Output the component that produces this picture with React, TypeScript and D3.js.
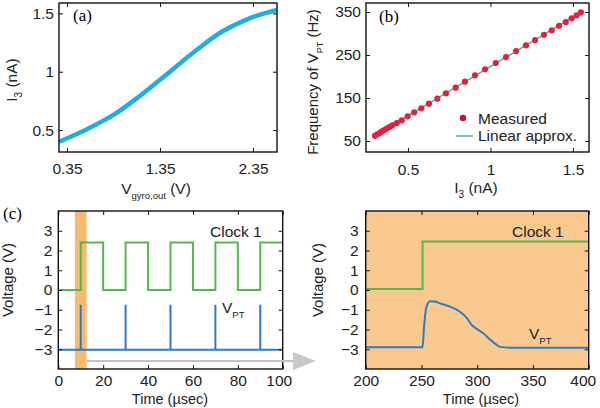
import { useEffect, useRef } from 'react';
import * as d3 from 'd3';

// (a) I3 versus gyro output voltage
const vGyro = [0.264, 0.52, 0.85, 1.13, 1.44, 1.75, 2.01, 2.32, 2.605];
const i3Curve = [0.4, 0.49, 0.63, 0.79, 0.99, 1.19, 1.34, 1.46, 1.53];

// (b) spike frequency versus I3
const i3Measured = [0.3, 0.314, 0.328, 0.342, 0.356, 0.371, 0.387, 0.405, 0.432, 0.462, 0.498, 0.538, 0.581, 0.627, 0.678, 0.73, 0.789, 0.845, 0.906, 0.967, 1.032, 1.094, 1.155, 1.215, 1.27, 1.324, 1.371, 1.415, 1.456, 1.492, 1.522, 1.548];
const freqMeasured = [62, 65.6, 68.6, 72.6, 75.6, 78.6, 82.6, 86.5, 91.9, 98.1, 107.4, 116.7, 126, 136.7, 148.4, 160.9, 174, 187.9, 202.8, 216.7, 231.4, 245.3, 259.3, 272.6, 284.9, 297.2, 307.4, 318.1, 326.7, 335.3, 342.3, 349.3];
const i3Linear = [0.3, 1.55];
const freqLinear = [62.3, 349.8];

// (c) oscilloscope traces, 0-100 us
const clockT = [0, 10, 20, 30, 40, 50, 60, 70, 80, 90, 100];
const clockV = [0, 2.4, 0, 2.4, 0, 2.4, 0, 2.4, 0, 2.4, 2.4];
const spikeT = [10, 30, 50, 70, 90];
const spikeTop = -0.75;
const vptBase = -3.02;
const zoomWindow = [7.4, 12.6];

// (c) zoomed traces, 200-400 us
const clockZT = [200, 251, 400];
const clockZV = [0.05, 2.45, 2.45];
const vptZT = [200, 251, 252.3, 253.8, 255.6, 257.7, 262.2, 266.6, 275.6, 284.5, 290.6, 295, 299.5, 305.5, 311.5, 317.5, 320.4, 330, 400];
const vptZV = [-2.9, -2.9, -1.89, -1.05, -0.68, -0.57, -0.58, -0.68, -0.84, -1.1, -1.41, -1.77, -1.97, -2.19, -2.51, -2.78, -2.88, -2.92, -2.92];

const FONT = '"Liberation Sans", Arial, sans-serif';
const SERIF = '"Liberation Serif", "Times New Roman", serif';

const drawFrame = (svg, x, y, xTicks, yTicks, opts) => {
  const [x0, x1] = x.range();
  const [y0, y1] = y.range();
  const fs = opts.fontSize;

  const style = (g) => {
    g.select('.domain').remove();
    g.selectAll('line').attr('stroke', '#111').attr('stroke-width', 1);
    g.selectAll('text').attr('font-family', FONT).attr('font-size', fs).attr('fill', '#222');
  };

  const bottom = svg.append('g')
    .attr('transform', `translate(0, ${y0})`)
    .call(d3.axisBottom(x).tickValues(xTicks).tickSizeInner(-4).tickSizeOuter(0).tickPadding(opts.xPad).tickFormat(opts.xFmt || d3.format('')))
    .call(style);
  if (opts.lastShift) {
    bottom.selectAll('.tick:last-of-type text').attr('dx', opts.lastShift);
  }
  svg.append('g')
    .attr('transform', `translate(0, ${y1})`)
    .call(d3.axisTop(x).tickValues(xTicks).tickSizeInner(-4).tickSizeOuter(0).tickFormat(() => ''))
    .call(style);
  svg.append('g')
    .attr('transform', `translate(${x0}, 0)`)
    .call(d3.axisLeft(y).tickValues(yTicks).tickSizeInner(-4).tickSizeOuter(0).tickPadding(opts.yPad).tickFormat(opts.yFmt || d3.format('')))
    .call(style);
  svg.append('g')
    .attr('transform', `translate(${x1}, 0)`)
    .call(d3.axisRight(y).tickValues(yTicks).tickSizeInner(-4).tickSizeOuter(0).tickFormat(() => ''))
    .call(style);

  svg.append('rect')
    .attr('x', x0).attr('y', y1)
    .attr('width', x1 - x0).attr('height', y0 - y1)
    .attr('fill', 'none').attr('stroke', '#111').attr('stroke-width', 1.4);
};

// text with a subscript part: parts = [[text, isSub], ...]
const subText = (sel, parts, fs, subFs) => {
  let shifted = false;
  parts.forEach(([t, sub]) => {
    const ts = sel.append('tspan').text(t).attr('font-size', sub ? subFs : fs);
    if (sub && !shifted) { ts.attr('dy', fs * 0.3); shifted = true; }
    else if (!sub && shifted) { ts.attr('dy', -fs * 0.3); shifted = false; }
  });
  return sel;
};

const Chart = () => {
  const svgRef = useRef();

  useEffect(() => {
    const svg = d3.select(svgRef.current);
    svg.selectAll('*').remove();

    // ---- panel (a)
    const xa = d3.scaleLinear().domain([0.264, 2.608]).range([59, 277]);
    const ya = d3.scaleLinear().domain([0.312, 1.589]).range([152, 3]);
    const lineA = d3.line().x(d => xa(d[0])).y(d => ya(d[1])).curve(d3.curveCatmullRom);
    svg.append('path')
      .datum(vGyro.map((v, i) => [v, i3Curve[i]]))
      .attr('d', lineA)
      .attr('fill', 'none').attr('stroke', '#1eaee3').attr('stroke-width', 4.5);
    drawFrame(svg, xa, ya, [0.35, 1.35, 2.35], [0.5, 1, 1.5], {
      fontSize: 15.5, xPad: 11, yPad: 5, xFmt: d3.format('.2f'), yFmt: d => `${d}`,
    });
    svg.append('text').attr('x', 73).attr('y', 21).attr('font-family', SERIF).attr('font-size', 17).text('(a)');
    subText(svg.append('text').attr('transform', 'translate(17, 80) rotate(-90)').attr('text-anchor', 'middle')
      .attr('font-family', FONT).attr('fill', '#222'), [['I', false], ['3', true], [' (nA)', false]], 15.5, 10);
    subText(svg.append('text').attr('x', 156).attr('y', 194).attr('text-anchor', 'middle')
      .attr('font-family', FONT).attr('fill', '#222'), [['V', false], ['gyro,out', true], [' (V)', false]], 15.5, 9.5);

    // ---- panel (b)
    const xb = d3.scaleLinear().domain([0.2455, 1.597]).range([366, 589]);
    const yb = d3.scaleLinear().domain([24.4, 371]).range([152, 3]);
    svg.append('path')
      .datum(i3Linear.map((v, i) => [v, freqLinear[i]]))
      .attr('d', d3.line().x(d => xb(d[0])).y(d => yb(d[1])))
      .attr('stroke', '#3db5ad').attr('stroke-width', 1.5).attr('fill', 'none');
    svg.append('g').selectAll('circle')
      .data(i3Measured.map((v, i) => [v, freqMeasured[i]]))
      .join('circle')
      .attr('cx', d => xb(d[0])).attr('cy', d => yb(d[1])).attr('r', 3.1)
      .attr('fill', '#e4213b');
    drawFrame(svg, xb, yb, [0.5, 1, 1.5], [50, 150, 250, 350], {
      fontSize: 15.5, xPad: 12, yPad: 5, xFmt: d => `${d}`,
    });
    svg.append('text').attr('x', 379).attr('y', 22).attr('font-family', SERIF).attr('font-size', 17).text('(b)');
    subText(svg.append('text').attr('transform', 'translate(318, 82) rotate(-90)').attr('text-anchor', 'middle')
      .attr('font-family', FONT).attr('fill', '#222'), [['Frequency of V', false], ['PT', true], [' (Hz)', false]], 15, 9);
    subText(svg.append('text').attr('x', 476).attr('y', 193).attr('text-anchor', 'middle')
      .attr('font-family', FONT).attr('fill', '#222'), [['I', false], ['3', true], [' (nA)', false]], 15.5, 10);
    // legend
    svg.append('circle').attr('cx', 463).attr('cy', 118).attr('r', 3.2).attr('fill', '#b8183a');
    svg.append('text').attr('x', 478).attr('y', 123.5).attr('font-family', FONT).attr('font-size', 15.5).attr('fill', '#222').text('Measured');
    svg.append('line').attr('x1', 456).attr('x2', 473).attr('y1', 136).attr('y2', 136).attr('stroke', '#3db5ad').attr('stroke-width', 1.5);
    svg.append('text').attr('x', 478).attr('y', 141).attr('font-family', FONT).attr('font-size', 15.5).attr('fill', '#222').text('Linear approx.');

    // ---- panel (c), left
    const xc = d3.scaleLinear().domain([0, 100]).range([58.3, 282.7]);
    const yc = d3.scaleLinear().domain([-4, 4]).range([369, 211]);
    svg.append('rect')
      .attr('x', xc(zoomWindow[0])).attr('y', yc(4))
      .attr('width', xc(zoomWindow[1]) - xc(zoomWindow[0])).attr('height', yc(-4) - yc(4))
      .attr('fill', '#f6bb72');
    const clockPts = clockT.map((t, i) => [t, clockV[i]]);
    svg.append('path')
      .datum(clockPts)
      .attr('d', d3.line().x(d => xc(d[0])).y(d => yc(d[1])).curve(d3.curveStepAfter))
      .attr('fill', 'none').attr('stroke', '#55b84a').attr('stroke-width', 2);
    const vptPts = [[0, vptBase]];
    spikeT.forEach(t => { vptPts.push([t, vptBase], [t, spikeTop], [t, vptBase]); });
    vptPts.push([100, vptBase]);
    svg.append('path')
      .datum(vptPts)
      .attr('d', d3.line().x(d => xc(d[0])).y(d => yc(d[1])))
      .attr('fill', 'none').attr('stroke', '#2a7dc2').attr('stroke-width', 2);
    drawFrame(svg, xc, yc, [0, 20, 40, 60, 80, 100], [-3, -2, -1, 0, 1, 2, 3], {
      fontSize: 15.5, xPad: 6, yPad: 6, xFmt: d => `${d}`, lastShift: -4,
    });
    svg.append('text').attr('x', 3).attr('y', 219).attr('font-family', SERIF).attr('font-size', 17).text('(c)');
    svg.append('text').attr('x', 210).attr('y', 237).attr('font-family', FONT).attr('font-size', 15.5).attr('fill', '#222').text('Clock 1');
    subText(svg.append('text').attr('x', 222).attr('y', 313).attr('font-family', FONT).attr('fill', '#222'), [['V', false], ['PT', true]], 15.5, 9.5);
    svg.append('text').attr('x', 170).attr('y', 404).attr('text-anchor', 'middle').attr('font-family', FONT).attr('font-size', 14.5).attr('fill', '#222').text('Time (\u00b5sec)');
    svg.append('text').attr('transform', 'translate(13, 280) rotate(-90)').attr('text-anchor', 'middle').attr('font-family', FONT).attr('font-size', 15).attr('fill', '#222').text('Voltage (V)');

    // gray arrow from the highlighted window to the zoomed panel
    const ay = yc(-3.6);
    svg.append('line').attr('x1', xc(zoomWindow[1])).attr('x2', 296).attr('y1', ay).attr('y2', ay)
      .attr('stroke', '#c4c4c4').attr('stroke-width', 2);
    svg.append('path').attr('d', `M293,${ay - 9} L316,${ay} L293,${ay + 9} Z`).attr('fill', '#c8c8c8');

    // ---- panel (c), right
    const xz = d3.scaleLinear().domain([200, 400]).range([365.7, 588.7]);
    const yz = d3.scaleLinear().domain([-4, 4]).range([369, 211]);
    svg.append('rect').attr('x', 365.7).attr('y', 211).attr('width', 223).attr('height', 158).attr('fill', '#fac990');
    svg.append('path')
      .datum(clockZT.map((t, i) => [t, clockZV[i]]))
      .attr('d', d3.line().x(d => xz(d[0])).y(d => yz(d[1])).curve(d3.curveStepAfter))
      .attr('fill', 'none').attr('stroke', '#55b84a').attr('stroke-width', 2);
    svg.append('path')
      .datum(vptZT.map((t, i) => [t, vptZV[i]]))
      .attr('d', d3.line().x(d => xz(d[0])).y(d => yz(d[1])).curve(d3.curveMonotoneX))
      .attr('fill', 'none').attr('stroke', '#2a7dc2').attr('stroke-width', 2);
    drawFrame(svg, xz, yz, [200, 250, 300, 350, 400], [-3, -2, -1, 0, 1, 2, 3], {
      fontSize: 15.5, xPad: 6, yPad: 7, xFmt: d => `${d}`, lastShift: -6,
    });
    svg.append('text').attr('x', 512).attr('y', 237).attr('font-family', FONT).attr('font-size', 15.5).attr('fill', '#222').text('Clock 1');
    subText(svg.append('text').attr('x', 529).attr('y', 339).attr('font-family', FONT).attr('fill', '#222'), [['V', false], ['PT', true]], 15.5, 9.5);
    svg.append('text').attr('x', 481).attr('y', 404).attr('text-anchor', 'middle').attr('font-family', FONT).attr('font-size', 14.5).attr('fill', '#222').text('Time (\u00b5sec)');
    svg.append('text').attr('transform', 'translate(323, 280) rotate(-90)').attr('text-anchor', 'middle').attr('font-family', FONT).attr('font-size', 15).attr('fill', '#222').text('Voltage (V)');
  }, []);

  return (
    <svg ref={svgRef} width="600" height="408" viewBox="0 0 600 408"
      style={{ position: 'absolute', left: 0, top: 0, background: '#fff' }} />
  );
};

export default function App() {
  return <Chart />;
}
